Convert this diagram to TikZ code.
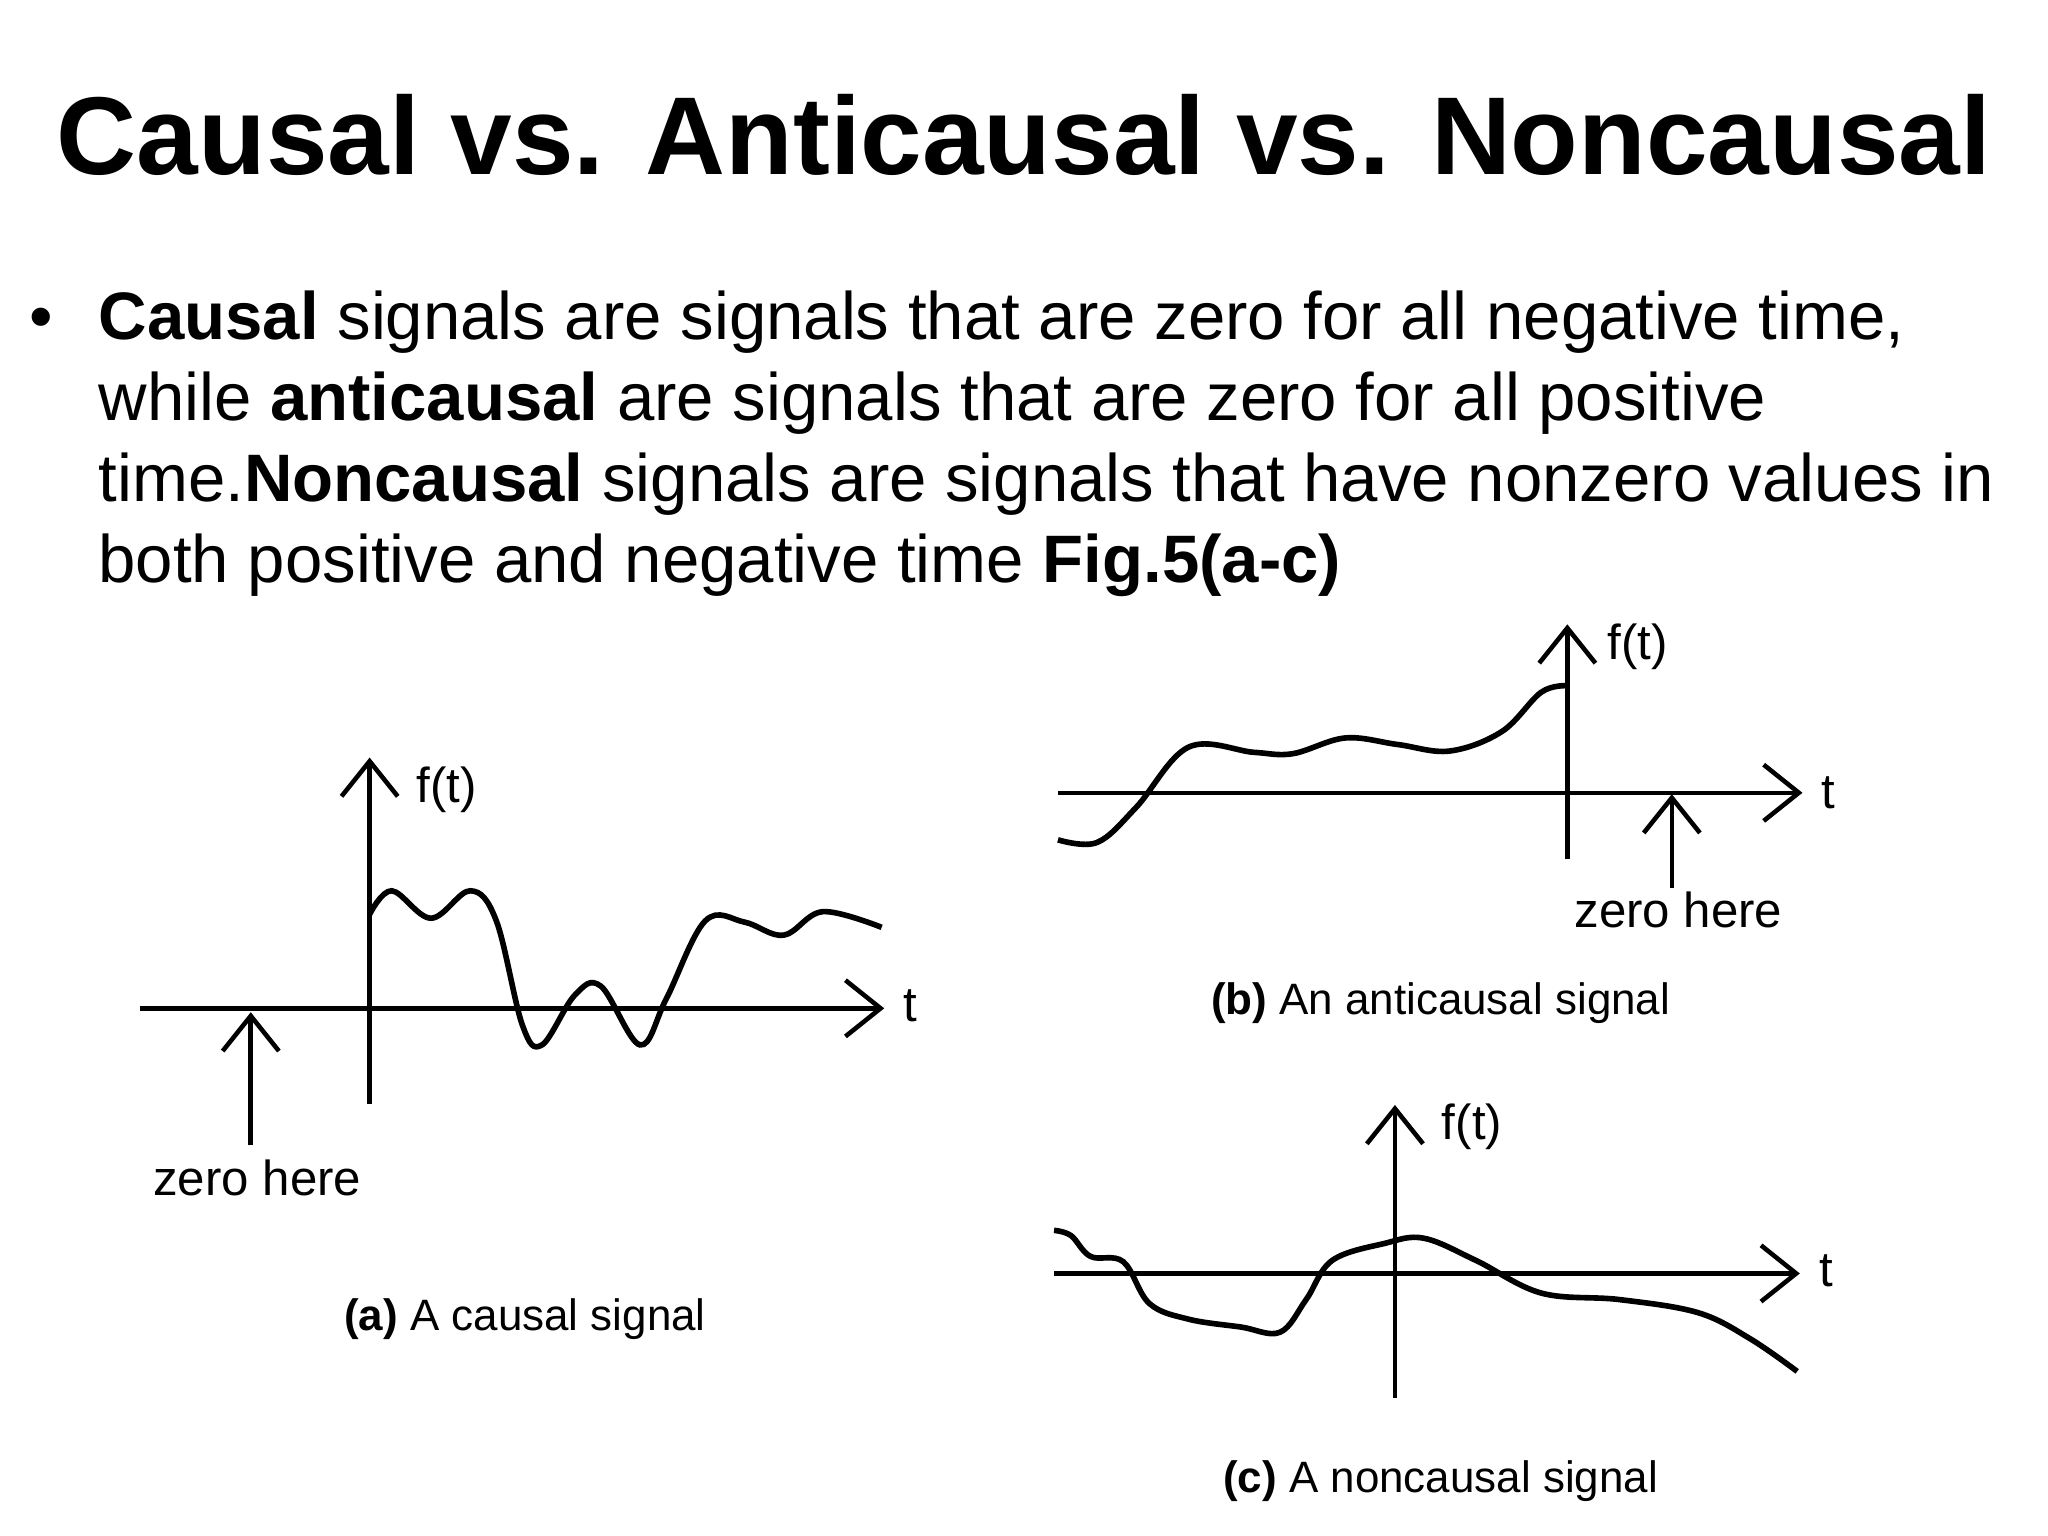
\documentclass[tikz,border=0pt]{standalone}
\usepackage{fontspec}
\setmainfont{Liberation Sans}
\usetikzlibrary{arrows.meta}
\begin{document}
\begin{tikzpicture}[x=0.013061cm,y=-0.013061cm,
  ax/.style={line width=1.3pt,-{Straight Barb[length=10pt,width=16pt]}},
  sig/.style={line width=1.6pt},
  lbl/.style={font=\fontsize{14}{17}\selectfont},
  captxt/.style={font=\fontsize{12.5}{15}\selectfont},
  body/.style={anchor=base west,inner sep=0pt,font=\fontsize{19.1}{23}\selectfont}]
\useasboundingbox (0,0) rectangle (1568,1176);
\node (title) at (784,103) {\fontsize{31.5}{38}\selectfont\bfseries Causal vs. Anticausal vs. Noncausal};
\node[body] (bul) at (22,260) {•};
\node[body] (l1) at (75,260) {\textbf{Causal} signals are signals that are zero for all negative time,};
\node[body] (l2) at (75,322) {while \textbf{anticausal} are signals that are zero for all positive};
\node[body] (l3) at (75,384) {time.\textbf{Noncausal} signals are signals that have nonzero values in};
\node[body] (l4) at (75,446) {both positive and negative time \textbf{Fig.5(a-c)}};
% (a)
\coordinate (a1) at (107,772); \coordinate (a2) at (677,772);
\coordinate (a3) at (283,845); \coordinate (a4) at (283,580);
\draw[ax] (a1)--(a2); \draw[ax] (a3)--(a4);
\draw[sig] plot[smooth,tension=0.6] coordinates {(283,700)(300,682)(330,703)(360,682)(380,705)(400,785)(415,800)(440,762)(460,755)(490,800)(510,765)(540,705)(570,706)(600,716)(630,698)(675,710)};
\coordinate (za1) at (192,877); \coordinate (za2) at (192,775);
\draw[ax] (za1)--(za2);
\node[lbl] (fa) at (342,605) {f(t)};
\node[lbl] (ta) at (697,770) {t};
\node[lbl] (zha) at (197,902) {zero here};
\node[captxt] (capa) at (402,1010) {\textbf{(a)} A causal signal};
% (b)
\coordinate (b1) at (810,607); \coordinate (b2) at (1380,607);
\coordinate (b3) at (1200,658); \coordinate (b4) at (1200,478);
\draw[ax] (b1)--(b2); \draw[ax] (b3)--(b4);
\draw[sig] plot[smooth,tension=0.6] coordinates {(810,643)(840,645)(870,618)(910,572)(960,576)(990,577)(1030,565)(1070,570)(1110,575)(1150,560)(1180,530)(1200,525)};
\coordinate (zb1) at (1280,680); \coordinate (zb2) at (1280,608);
\draw[ax] (zb1)--(zb2);
\node[lbl] (fb) at (1254,495) {f(t)};
\node[lbl] (tb) at (1400,607) {t};
\node[lbl] (zhb) at (1285,697) {zero here};
\node[captxt] (capb) at (1103,768) {\textbf{(b)} An anticausal signal};
% (c)
\coordinate (c1) at (807,975); \coordinate (c2) at (1378,975);
\coordinate (c3) at (1068,1070); \coordinate (c4) at (1068,846);
\draw[ax] (c1)--(c2); \draw[ax] (c3)--(c4);
\draw[sig] plot[smooth,tension=0.6] coordinates {(807,942)(820,946)(835,962)(860,966)(880,998)(910,1010)(950,1016)(980,1020)(1000,995)(1020,965)(1060,952)(1090,948)(1130,965)(1180,990)(1240,995)(1300,1005)(1340,1025)(1376,1050)};
\node[lbl] (fc) at (1127,863) {f(t)};
\node[lbl] (tc) at (1398,973) {t};
\node[captxt] (capc) at (1103,1134) {\textbf{(c)} A noncausal signal};
\end{tikzpicture}
\end{document}
